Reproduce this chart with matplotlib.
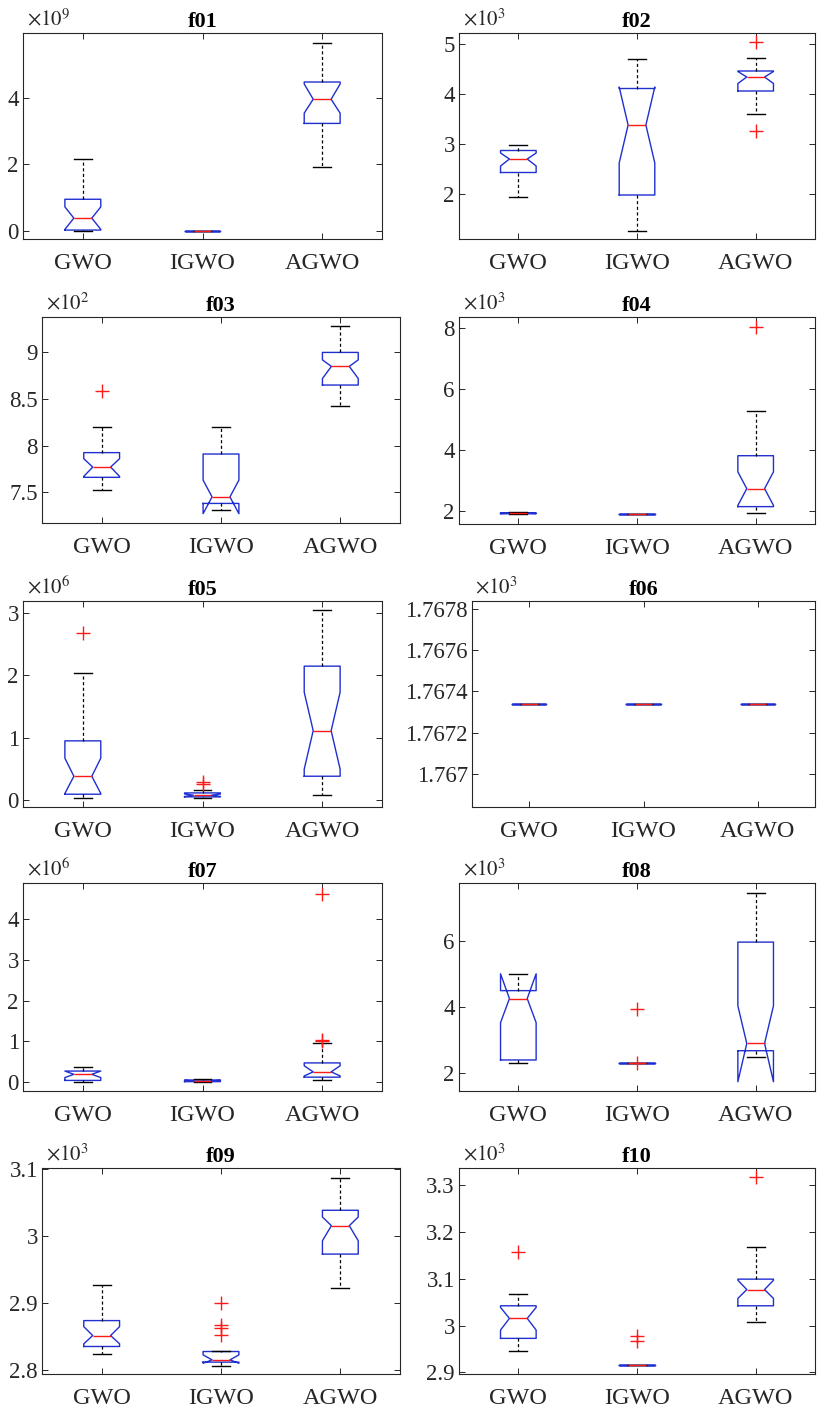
import matplotlib
matplotlib.use('Agg')
import matplotlib.pyplot as plt
from matplotlib.ticker import FormatStrFormatter

plt.rcParams['font.family'] = ['Liberation Serif', 'DejaVu Serif']
plt.rcParams['mathtext.fontset'] = 'stix'

algos = ['GWO', 'IGWO', 'AGWO']

# per panel: [whislo, q1, med, q3, whishi] for each algorithm, notch [cilo, cihi], outliers
# values are in the units shown on the axis (i.e. already divided by the x10^n factor)
f01_box = [[0.0, 0.02, 0.38, 0.95, 2.17], [0.005, 0.005, 0.005, 0.005, 0.005], [1.92, 3.24, 3.97, 4.49, 5.68]]
f01_notch = [[0.04, 0.72], [0.005, 0.005], [3.55, 4.43]]
f01_out = [[], [], []]

f02_box = [[1.93, 2.42, 2.69, 2.86, 2.98], [1.25, 1.97, 3.37, 4.10, 4.70], [3.60, 4.05, 4.33, 4.45, 4.71]]
f02_notch = [[2.55, 2.81], [2.61, 4.13], [4.20, 4.44]]
f02_out = [[], [], [5.04, 3.25]]

f03_box = [[7.52, 7.66, 7.77, 7.925, 8.20], [7.31, 7.38, 7.45, 7.91, 8.20], [8.42, 8.65, 8.85, 9.0, 9.28]]
f03_notch = [[7.67, 7.86], [7.27, 7.63], [8.72, 8.92]]
f03_out = [[8.59], [], []]

f04_box = [[1.90, 1.91, 1.92, 1.935, 1.96], [1.89, 1.89, 1.89, 1.89, 1.89], [1.94, 2.14, 2.73, 3.81, 5.28]]
f04_notch = [[1.91, 1.93], [1.89, 1.89], [2.18, 3.28]]
f04_out = [[], [], [8.03]]

f05_box = [[0.03, 0.086, 0.376, 0.946, 2.04], [0.02, 0.043, 0.07, 0.107, 0.16], [0.07, 0.376, 1.11, 2.15, 3.06]]
f05_notch = [[0.097, 0.667], [0.05, 0.09], [0.49, 1.73]]
f05_out = [[2.68], [0.285, 0.247], []]

f06_box = [[1.767338] * 5, [1.767338] * 5, [1.767338] * 5]
f06_notch = [[1.767338, 1.767338]] * 3
f06_out = [[], [], []]

f07_box = [[0.01, 0.04, 0.19, 0.27, 0.37], [0.0, 0.01, 0.03, 0.05, 0.08], [0.04, 0.12, 0.25, 0.47, 0.96]]
f07_notch = [[0.11, 0.27], [0.02, 0.04], [0.15, 0.40]]
f07_out = [[], [], [4.62, 1.04, 1.0]]

f08_box = [[2.31, 2.39, 4.25, 4.49, 5.0], [2.30, 2.30, 2.30, 2.30, 2.30], [2.47, 2.67, 2.89, 5.96, 7.45]]
f08_notch = [[3.52, 5.0], [2.30, 2.30], [1.73, 4.03]]
f08_out = [[], [3.93, 2.305], []]

f09_box = [[2.824, 2.835, 2.8513, 2.8736, 2.9266], [2.8066, 2.8117, 2.815, 2.8275, 2.829],
           [2.9227, 2.9727, 3.015, 3.038, 3.0868]]
f09_notch = [[2.839, 2.8646], [2.81, 2.8225], [2.9926, 3.028]]
f09_out = [[], [2.9005, 2.8667, 2.862, 2.852], []]

f10_box = [[2.9448, 2.9726, 3.0153, 3.0423, 3.067], [2.9157] * 5, [3.0075, 3.0423, 3.077, 3.0993, 3.1683]]
f10_notch = [[2.9904, 3.0388], [2.9157, 2.9157], [3.058, 3.097]]
f10_out = [[3.1577], [2.9776, 2.9669], [3.3178]]

panels = [
    ('f01', f01_box, f01_notch, f01_out, 9, (-0.25, 5.97), [0, 2, 4]),
    ('f02', f02_box, f02_notch, f02_out, 3, (1.09, 5.21), [2, 3, 4, 5]),
    ('f03', f03_box, f03_notch, f03_out, 2, (7.17, 9.38), [7.5, 8, 8.5, 9]),
    ('f04', f04_box, f04_notch, f04_out, 3, (1.57, 8.36), [2, 4, 6, 8]),
    ('f05', f05_box, f05_notch, f05_out, 6, (-0.12, 3.20), [0, 1, 2, 3]),
    ('f06', f06_box, f06_notch, f06_out, 3, (1.766842, 1.767837), [1.767, 1.7672, 1.7674, 1.7676, 1.7678]),
    ('f07', f07_box, f07_notch, f07_out, 6, (-0.22, 4.89), [0, 1, 2, 3, 4]),
    ('f08', f08_box, f08_notch, f08_out, 3, (1.45, 7.75), [2, 4, 6]),
    ('f09', f09_box, f09_notch, f09_out, 3, (2.794, 3.101), [2.8, 2.9, 3, 3.1]),
    ('f10', f10_box, f10_notch, f10_out, 3, (2.8964, 3.337), [2.9, 3, 3.1, 3.2, 3.3]),
]

# axes extents in pixels: left, right, top, bottom
rects = [(23, 382, 33, 239), (459, 815, 33, 239),
         (42, 400, 317, 523), (459, 815, 317, 524),
         (23, 382, 601, 807), (472, 815, 601, 807),
         (23, 382, 883, 1091), (459, 815, 883, 1091),
         (42, 400, 1168, 1374), (459, 815, 1168, 1374)]

W, H = 817, 1411
fig = plt.figure(figsize=(W / 100, H / 100), dpi=100)
dark = '#262626'

for (name, box, notch, out, expo, ylim, yt), (l, r, t, b) in zip(panels, rects):
    ax = fig.add_axes([l / W, 1 - b / H, (r - l) / W, (b - t) / H])
    stats = []
    for i in range(3):
        lo, q1, med, q3, hi = box[i]
        stats.append(dict(whislo=lo, q1=q1, med=med, q3=q3, whishi=hi,
                          cilo=notch[i][0], cihi=notch[i][1], fliers=out[i]))
    ax.bxp(stats, positions=[1, 2, 3], widths=0.3, shownotches=True,
           boxprops=dict(color='#1f2fd0', lw=1.0),
           medianprops=dict(color='#ff1a1a', lw=1.0),
           whiskerprops=dict(color='k', lw=0.9, ls=(0, (2.5, 2))),
           capprops=dict(color='k', lw=1.0),
           flierprops=dict(marker='+', markeredgecolor='#ff1a1a', markersize=10, mew=1.0, ls='none'))
    ax.set_xlim(0.5, 3.5)
    ax.set_ylim(*ylim)
    ax.set_yticks(yt)
    ax.yaxis.set_major_formatter(FormatStrFormatter('%g'))
    ax.set_xticks([1, 2, 3])
    ax.set_xticklabels(algos)
    ax.tick_params(direction='in', top=True, right=True, length=4, width=0.7, color=dark,
                   labelcolor=dark)
    ax.tick_params(axis='y', labelsize=16.5, pad=3)
    ax.tick_params(axis='x', labelsize=17.5, pad=10)
    for s in ax.spines.values():
        s.set_color(dark)
        s.set_linewidth(0.8)
    ax.set_title(name, fontweight='bold', fontsize=16, pad=4)
    ax.text(0.01, 1.012, r'$\times10^{%d}$' % expo, transform=ax.transAxes,
            ha='left', va='bottom', fontsize=15, color=dark)

fig.savefig('out.png', dpi=100)
